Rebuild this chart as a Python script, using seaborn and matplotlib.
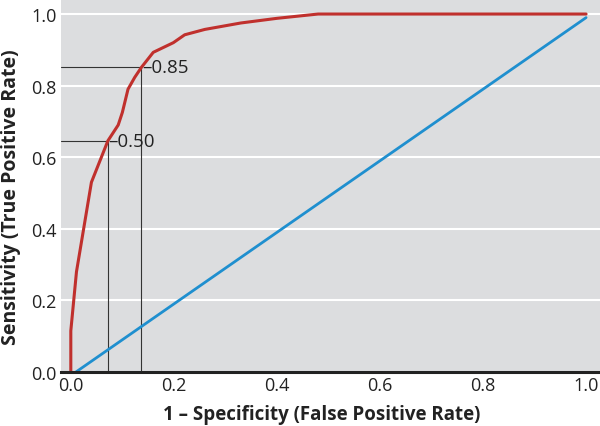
import matplotlib.pyplot as plt
import seaborn as sns
import pandas as pd

# ROC curve
fpr = [0.0, 0.0, 0.011, 0.04, 0.072, 0.092, 0.10, 0.111, 0.124, 0.137, 0.16, 0.199, 0.221,
       0.26, 0.33, 0.40, 0.48, 1.0]
tpr = [0.0, 0.115, 0.28, 0.53, 0.646, 0.69, 0.725, 0.79, 0.823, 0.851, 0.893, 0.92, 0.942,
       0.957, 0.975, 0.988, 1.0, 1.0]

# chance line
chance_x = [0.01, 1.0]
chance_y = [0.0, 0.99]

# marked thresholds
cut_labels = ["\u20130.50", "\u20130.85"]
cut_x = [0.072, 0.137]
cut_y = [0.646, 0.851]

ticks = [0.0, 0.2, 0.4, 0.6, 0.8, 1.0]

sns.set_theme(style="whitegrid", rc={
    "axes.facecolor": "#dcdddf",
    "grid.color": "white",
    "grid.linewidth": 1.5,
})
plt.rcParams['font.family'] = ['Open Sans', 'DejaVu Sans']

fig = plt.figure(figsize=(6, 4.27), dpi=100)
ax = fig.add_axes([0.1017, 0.1265, 0.8983, 0.8735])

roc = pd.DataFrame({"fpr": fpr, "tpr": tpr})
diag = pd.DataFrame({"x": chance_x, "y": chance_y})

sns.lineplot(data=diag, x="x", y="y", ax=ax, color="#1f8fcf", linewidth=2,
             sort=False, estimator=None)
sns.lineplot(data=roc, x="fpr", y="tpr", ax=ax, color="#c0302d", linewidth=2.2,
             sort=False, estimator=None)

x_left = -0.019
for lab, cx, cy in zip(cut_labels, cut_x, cut_y):
    ax.plot([cx, cx], [0, cy], color="#333333", linewidth=0.8, zorder=1)
    ax.plot([x_left, cx], [cy, cy], color="#333333", linewidth=0.8, zorder=1)
    ax.text(cx + 0.001, cy, lab, fontsize=13.5, va="center", ha="left", color="#222222")

ax.set_xlim(x_left, 1.027)
ax.set_ylim(0, 1.042)
ax.set_xticks(ticks)
ax.set_yticks(ticks)
ax.set_xticklabels([f"{t:.1f}" for t in ticks], fontsize=13, color="#222222")
ax.set_yticklabels([f"{t:.1f}" for t in ticks], fontsize=13, color="#222222")
ax.grid(axis="x", visible=False)
ax.tick_params(length=0, pad=3)

for side in ["top", "right", "left"]:
    ax.spines[side].set_visible(False)
ax.spines["bottom"].set_color("#222222")
ax.spines["bottom"].set_linewidth(2.2)

ax.set_xlabel("1 \u2013 Specificity (False Positive Rate)", fontsize=13.5, fontweight="bold", color="#222222")
ax.set_ylabel("Sensitivity (True Positive Rate)", fontsize=14, fontweight="bold", color="#222222")
ax.xaxis.set_label_coords(0.484, -0.086)
ax.yaxis.set_label_coords(-0.074, 0.472)

fig.savefig("out.png", dpi=100)
